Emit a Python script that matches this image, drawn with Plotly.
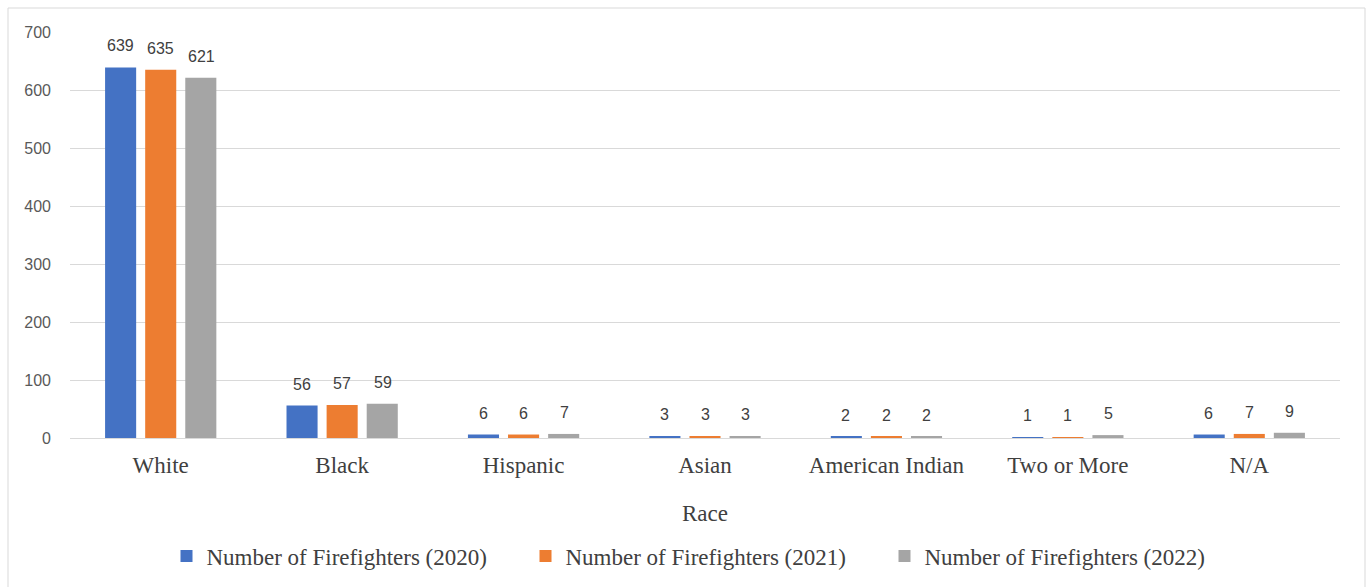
import plotly.graph_objects as go

categories = ["White", "Black", "Hispanic", "Asian", "American Indian", "Two or More", "N/A"]
series_names = ["Number of Firefighters (2020)", "Number of Firefighters (2021)", "Number of Firefighters (2022)"]
values_2020 = [639, 56, 6, 3, 2, 1, 6]
values_2021 = [635, 57, 6, 3, 2, 1, 7]
values_2022 = [621, 59, 7, 3, 2, 5, 9]
y_ticks = [0, 100, 200, 300, 400, 500, 600, 700]

colors = ["#4472C4", "#ED7D31", "#A5A5A5"]
all_values = [values_2020, values_2021, values_2022]

fig = go.Figure()
for name, vals, col in zip(series_names, all_values, colors):
    fig.add_trace(go.Bar(x=categories, y=vals, name=name, marker=dict(color=col, line=dict(width=0))))

shifts = [-40.5, 0, 40.5]
for vals, sh in zip(all_values, shifts):
    for c, v in zip(categories, vals):
        fig.add_annotation(x=c, y=v, text=str(v), showarrow=False, xshift=sh, yshift=11,
                           yanchor="bottom", font=dict(family="Liberation Sans, Arial", size=16, color="#404040"))

fig.add_shape(type="rect", xref="paper", yref="paper",
              x0=(8 - 70) / 1270, x1=(1365 - 70) / 1270, y0=-0.5, y1=1 + (32 - 8) / 406,
              line=dict(color="#D9D9D9", width=1), fillcolor="rgba(0,0,0,0)", layer="below")

serif = "Liberation Serif, Times New Roman"
fig.update_layout(
    width=1369, height=587,
    margin=dict(l=70, r=29, t=32, b=149, autoexpand=False),
    paper_bgcolor="white", plot_bgcolor="white",
    barmode="group", bargap=0.337, bargroupgap=0.225,
    showlegend=True,
    legend=dict(orientation="h", x=0.5, xanchor="center", y=(438 - 556) / 406, yanchor="middle",
                font=dict(family=serif, size=23, color="#404040"),
                entrywidth=314, traceorder="normal"),
    xaxis=dict(showgrid=False, showline=True, linecolor="#D9D9D9", linewidth=1, ticks="",
               tickfont=dict(family=serif, size=23, color="#404040"),
               ticklabelstandoff=6, automargin=False,
               title=dict(text="Race", font=dict(family=serif, size=23, color="#404040"), standoff=28)),
    yaxis=dict(range=[0, 700], tickvals=y_ticks, showgrid=True, gridcolor="#D9D9D9", gridwidth=1,
               zeroline=False, showline=False, ticks="", automargin=False,
               tickfont=dict(family="Liberation Sans, Arial", size=16, color="#595959"),
               ticklabelstandoff=18),
)

fig.write_html("out.html")
